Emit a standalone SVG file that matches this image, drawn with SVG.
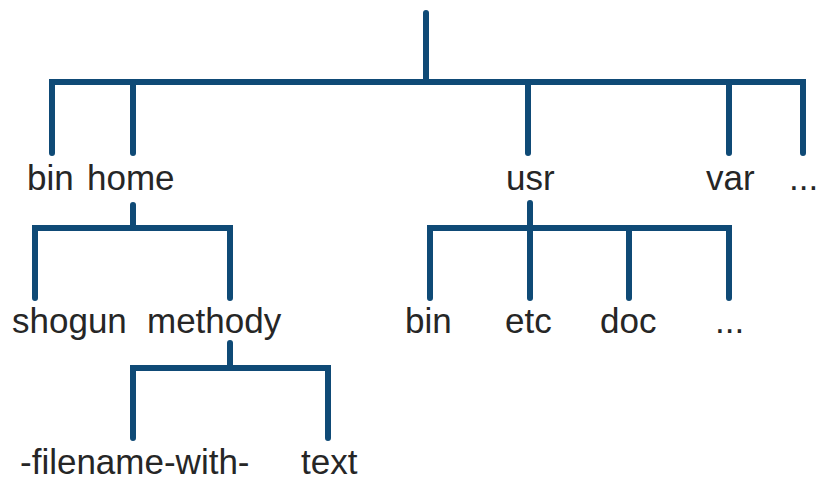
<svg xmlns="http://www.w3.org/2000/svg" width="820" height="482" viewBox="0 0 820 482">
<style>
.c{fill:none;stroke:#0f4a76;stroke-width:6;stroke-linecap:round;stroke-linejoin:miter}
.t{font-family:"Liberation Sans",Arial,sans-serif;font-size:35px;fill:#262626}
</style>
<rect width="820" height="482" fill="#ffffff"/>
<g id="connectors">
<path class="c" d="M426 13V82"/>
<path class="c" d="M52 153V82H803V153"/>
<path class="c" d="M133 82V153"/>
<path class="c" d="M528 82V153"/>
<path class="c" d="M729 82V153"/>
<path class="c" d="M133 205V228"/>
<path class="c" d="M35 298V228H230V298"/>
<path class="c" d="M230 343V368"/>
<path class="c" d="M133 438V368H328V438"/>
<path class="c" d="M530 203V298"/>
<path class="c" d="M430 298V228H729V298"/>
<path class="c" d="M629 228V298"/>
</g>
<g id="n-bin"><text class="t" x="27" y="190">bin</text></g>
<g id="n-home"><text class="t" x="87" y="190">home</text></g>
<g id="n-usr"><text class="t" x="506" y="190">usr</text></g>
<g id="n-var"><text class="t" x="706" y="190">var</text></g>
<g id="n-more1"><text class="t" x="789" y="190">...</text></g>
<g id="n-shogun"><text class="t" x="12" y="333">shogun</text></g>
<g id="n-methody"><text class="t" x="147" y="333">methody</text></g>
<g id="n-usrbin"><text class="t" x="405" y="333">bin</text></g>
<g id="n-etc"><text class="t" x="505" y="333">etc</text></g>
<g id="n-doc"><text class="t" x="600" y="333">doc</text></g>
<g id="n-more2"><text class="t" x="715" y="333">...</text></g>
<g id="n-filename"><text class="t" x="20" y="474">-filename-with-</text></g>
<g id="n-text"><text class="t" x="301" y="474">text</text></g>
</svg>
